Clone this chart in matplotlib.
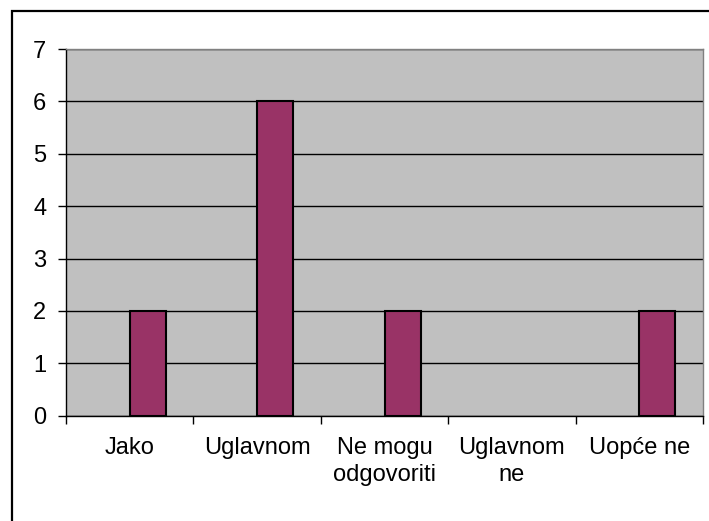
import matplotlib
matplotlib.use("Agg")
import matplotlib.pyplot as plt
from matplotlib.patches import Rectangle

categories = ["Jako", "Uglavnom", "Ne mogu\nodgovoriti", "Uglavnom\nne", "Uopće ne"]
values = [2, 6, 2, 0, 2]
yticks = [0, 1, 2, 3, 4, 5, 6, 7]

W, H = 709, 521
fig = plt.figure(figsize=(W / 100, H / 100), dpi=100)
plt.rcParams['font.family'] = ['Liberation Sans', 'DejaVu Sans']
FS = 17

# outer frame
fig.patches.append(Rectangle((11.5 / W, -0.1), 1.2, 1 - 10.5 / H + 0.1,
                             transform=fig.transFigure, fill=False,
                             edgecolor='black', linewidth=1.6))

left, right = 66 / W, 703 / W
bottom, top = 1 - 415.7 / H, 1 - 49 / H
ax = fig.add_axes([left, bottom, right - left, top - bottom])
ax.set_facecolor('#C0C0C0')

x = list(range(len(categories)))
edges = ['black' if v > 0 else 'none' for v in values]
ax.bar(x, values, width=0.283, align='edge', color='#993366',
       edgecolor=edges, linewidth=1.5, zorder=3)

ax.set_xlim(-0.5, len(categories) - 0.5)
ax.set_ylim(0, 7)
ax.set_yticks(yticks)
ax.set_yticklabels([str(v) for v in yticks], fontsize=FS)
ax.yaxis.grid(True, color='black', linewidth=1.0, zorder=1)
ax.set_axisbelow(True)

ax.set_xticks([i - 0.5 for i in range(len(categories) + 1)])
ax.set_xticklabels([])
ax.set_xticks(x, minor=True)
ax.set_xticklabels(categories, minor=True, fontsize=FS, linespacing=1.3)
ax.tick_params(axis='x', which='minor', length=0, pad=15)
ax.tick_params(axis='x', which='major', length=5.5, width=1, color='black', direction='out')
ax.tick_params(axis='y', length=5.8, width=1, color='black', direction='out', pad=8.5)

ax.spines['left'].set_color('black')
ax.spines['bottom'].set_color('black')
ax.spines['top'].set_color('#808080')
ax.spines['right'].set_color('#808080')
for s in ax.spines.values():
    s.set_linewidth(1.0)

fig.savefig("out.png", dpi=100)
